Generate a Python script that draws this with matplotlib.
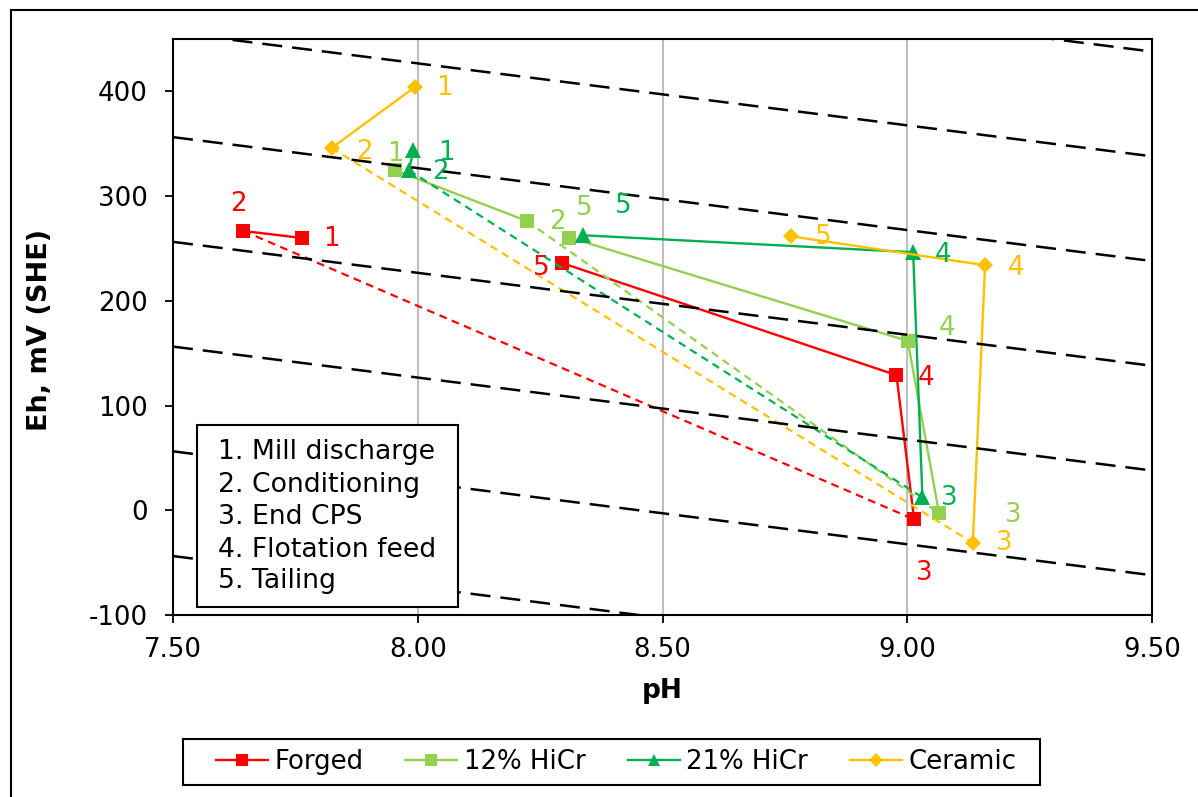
import matplotlib
matplotlib.use("Agg")
import matplotlib.pyplot as plt
import numpy as np
from matplotlib.lines import Line2D
from matplotlib.patches import Rectangle

plt.rcParams["axes.unicode_minus"] = False

# ---------------- data ----------------
stages = ["Mill discharge", "Conditioning", "End CPS", "Flotation feed", "Tailing"]
series_names = ["Forged", "12% HiCr", "21% HiCr", "Ceramic"]

forged_ph = [7.763, 7.644, 9.014, 8.978, 8.294]
forged_eh = [260.0, 266.7, -8.7, 129.0, 236.2]

hicr12_ph = [7.954, 8.223, 9.065, 9.001, 8.310]
hicr12_eh = [324.6, 276.2, -3.0, 161.7, 260.4]

hicr21_ph = [7.991, 7.982, 9.031, 9.012, 8.338]
hicr21_eh = [343.7, 324.6, 12.3, 246.4, 262.6]

ceramic_ph = [7.994, 7.824, 9.134, 9.159, 8.763]
ceramic_eh = [404.1, 345.9, -31.0, 234.0, 261.6]

# Nernst reference lines Eh = c - 59.16 pH
nernst_intercepts = [400, 500, 600, 700, 800, 900, 1000]
nernst_slope = -59.16

x_ticks = [7.50, 8.00, 8.50, 9.00, 9.50]
y_ticks = [-100, 0, 100, 200, 300, 400]

# ---------------- styles ----------------
colors = ["#FF0000", "#92D050", "#00B050", "#FFC000"]
markers = ["s", "s", "^", "D"]
msizes = [10.5, 10.5, 11, 8.5]
# label offsets in pixels (dx right, dy down) per point
label_offsets = [
    [(30, 1), (-5, -27), (10, 54), (30, 3), (-20, 5)],
    [(0, -16), (30, 1), (74, 2), (39, -13), (15, -30)],
    [(33, 3), (31, 2), (27, 1), (30, 3), (40, -29)],
    [(30, 1), (33, 4), (31, 0), (31, 3), (32, 1)],
]

FS = 18.7
W, H = 1198, 797
fig = plt.figure(figsize=(W / 100, H / 100), dpi=100)
ax = fig.add_axes([173 / W, 1 - 615 / H, (1152 - 173) / W, (615 - 39) / H])

ax.set_xlim(7.5, 9.5)
ax.set_ylim(-100, 450)

# grid
ax.set_axisbelow(True)
ax.xaxis.grid(True, color="#BFBFBF", lw=1.5)
ax.yaxis.grid(False)

# Nernst lines
xs = np.array(ax.get_xlim())
for c in nernst_intercepts:
    ax.plot(xs, c + nernst_slope * xs, color="black", lw=1.8,
            linestyle=(0, (8, 4)), zorder=2.5)

all_ph = [forged_ph, hicr12_ph, hicr21_ph, ceramic_ph]
all_eh = [forged_eh, hicr12_eh, hicr21_eh, ceramic_eh]

for ph, eh, col, mk, ms, offs in zip(all_ph, all_eh, colors, markers, msizes, label_offsets):
    kw = dict(color=col, lw=1.7, marker=mk, markersize=ms, markeredgewidth=0, zorder=2)
    ax.plot(ph[0:2], eh[0:2], **kw)
    ax.plot(ph[1:3], eh[1:3], color=col, lw=1.6, linestyle=(0, (3.5, 2.5)), zorder=2)
    ax.plot(ph[2:5], eh[2:5], **kw)
    for i, (x, y) in enumerate(zip(ph, eh)):
        dx, dy = offs[i]
        ax.annotate(str(i + 1), (x, y), xytext=(dx, -dy), textcoords="offset pixels",
                    ha="center", va="center", color=col, fontsize=FS, zorder=4)

# axes styling
for s in ax.spines.values():
    s.set_color("black")
    s.set_linewidth(1.5)
ax.set_xticks(x_ticks)
ax.set_xticklabels([f"{v:.2f}" for v in x_ticks])
ax.set_yticks(y_ticks)
ax.tick_params(axis="both", direction="out", length=6, width=1.3, labelsize=FS)
ax.tick_params(axis="x", pad=10)
ax.tick_params(axis="y", pad=12)

# axis titles
fig.text(662 / W, 1 - 691 / H, "pH", ha="center", va="center", fontsize=19, fontweight="bold")
fig.text(40 / W, 1 - 330 / H, "Eh, mV (SHE)", ha="center", va="center", rotation=90,
         fontsize=19.5, fontweight="bold")

# stage text box
rect = Rectangle((197 / W, 1 - 607 / H), (458 - 197) / W, (607 - 425) / H,
                 transform=fig.transFigure, facecolor="white", edgecolor="black",
                 lw=1.5, zorder=5, clip_on=False)
ax.add_patch(rect)
line_ys = [452, 485, 517, 550, 581]
for i, (st, yy) in enumerate(zip(stages, line_ys)):
    ax.text(218 / W, 1 - yy / H, f"{i + 1}. {st}", transform=fig.transFigure,
            ha="left", va="center", fontsize=19.2, zorder=6)

# legend (frame drawn separately)
handles = [Line2D([0], [0], color=c, lw=1.7, marker=m, markersize=ms * 0.8, markeredgewidth=0)
           for c, m, ms in zip(colors, markers, msizes)]
leg = fig.legend(handles, series_names, loc="center", bbox_to_anchor=(616 / W, 1 - 762 / H),
                 ncol=4, frameon=False, fontsize=FS,
                 handlelength=2.0, handletextpad=0.25, columnspacing=1.62, borderpad=0.3)
fig.add_artist(Rectangle((183 / W, 1 - 785 / H), (1040 - 183) / W, (785 - 739) / H,
                         transform=fig.transFigure, facecolor="white", edgecolor="black",
                         lw=1.5, zorder=0))

# outer chart border (partially visible)
fig.add_artist(Line2D([11 / W, 11 / W], [0, 1 - 10 / H], color="black", lw=1.5,
                      transform=fig.transFigure))
fig.add_artist(Line2D([11 / W, 1], [1 - 10 / H, 1 - 10 / H], color="black", lw=1.5,
                      transform=fig.transFigure))

fig.savefig("out.png", dpi=100)
